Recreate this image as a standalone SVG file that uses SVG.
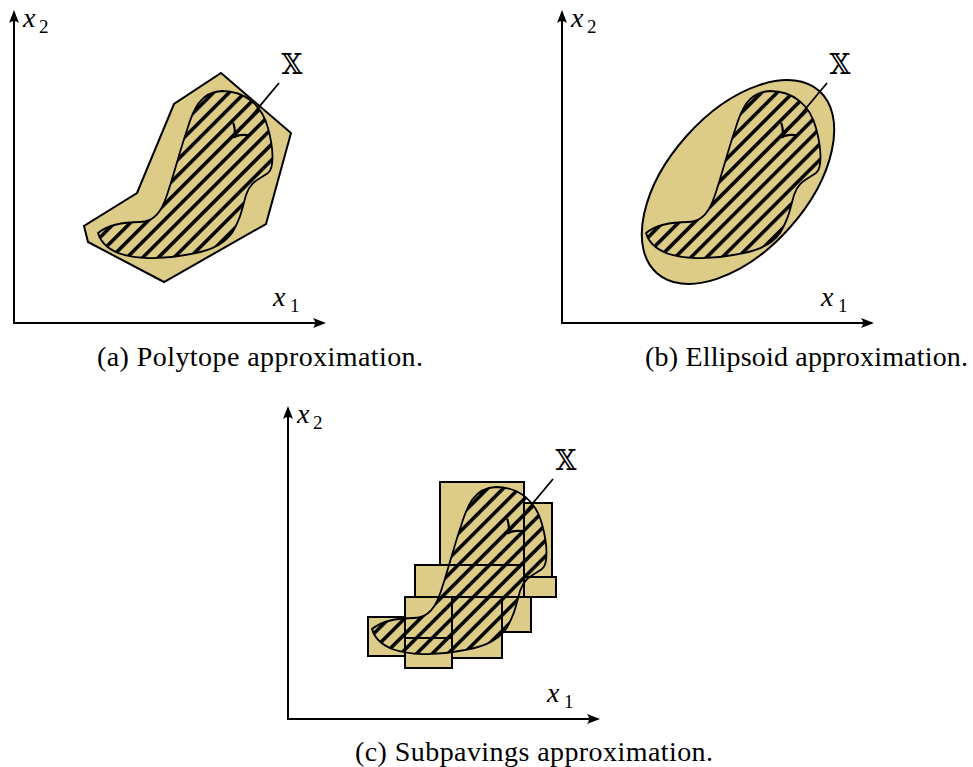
<svg xmlns="http://www.w3.org/2000/svg" xmlns:xlink="http://www.w3.org/1999/xlink" width="973" height="767" viewBox="0 0 973 767">
<style>
.axis{fill:none;stroke:#000;stroke-width:2;marker-end:url(#axhead)}
.region{fill:#DDCC88;stroke:#000;stroke-width:2;stroke-linejoin:miter}
.blob{fill:url(#hatch);stroke:#000;stroke-width:1.8}
.ptr{fill:none;stroke:#000;stroke-width:1.8;marker-end:url(#tohead)}
text{font-family:"Liberation Serif",serif;fill:#000}
.m{font-size:28px;font-style:italic}
.s{font-size:19px}
.cap{font-size:28px}
.set{font-family:"DejaVu Serif",serif;font-size:27px}
</style>
<defs>
<pattern id="hatch" patternUnits="userSpaceOnUse" width="11.1" height="11.1" patternTransform="rotate(-45)">
<line x1="-1" y1="5.5" x2="12.1" y2="5.5" stroke="#000" stroke-width="3.5"/>
</pattern>
<marker id="axhead" markerUnits="userSpaceOnUse" markerWidth="16" markerHeight="12" viewBox="-13 -6 16 12" refX="0" refY="0" orient="auto">
<path d="M2,0 L-11,-5 Q-7,0 -11,5 Z" fill="#000"/>
</marker>
<marker id="tohead" markerUnits="userSpaceOnUse" markerWidth="24" markerHeight="24" viewBox="-16 -12 24 24" refX="0" refY="0" orient="auto">
<path d="M-10,-9 C-6,-3 -2,-0.6 0.8,0 C-2,0.6 -6,3 -10,9" fill="none" stroke="#000" stroke-width="2.2" stroke-linecap="round"/>
</marker>
<path id="blob-shape" d="M98,233 C108,225 125,222 140,222 C155,222 162,210 167,195 C173,178 180,150 187,130 C193,110 200,92 222,91 C245,91 262,105 268,128 C274,150 274,168 268,173 C258,180 250,182 246,195 C242,210 240,220 232,233 C222,247 205,252 185,255 C160,260 135,259 118,253 C106,248 100,240 98,233 Z"/>
</defs>

<!-- Panel (a) -->
<g id="panel-a">
<g id="a-polytope"><polygon class="region" points="84,226 88,242 164,282 266,224 291,133 221,73 174,104 137,193"/></g>
<g id="a-set"><use href="#blob-shape" class="blob"/></g>
<g id="a-axes">
<line class="axis" x1="14" y1="323" x2="14" y2="12"/>
<line class="axis" x1="13" y1="323" x2="324" y2="323"/>
<text class="m" x="23" y="27">x</text><text class="s" x="39" y="33">2</text>
<text class="m" x="273" y="306">x</text><text class="s" x="290" y="312">1</text>
</g>
<g id="a-label"><text class="set" x="292" y="74" text-anchor="middle">𝕏</text></g>
<text class="cap" x="97" y="366" textLength="326" lengthAdjust="spacing">(a) Polytope approximation.</text>
</g>

<!-- Panel (b) -->
<g id="panel-b">
<g id="b-ellipsoid"><ellipse class="region" cx="738" cy="182" rx="122" ry="69" transform="rotate(-48.2 738 182)"/></g>
<g id="b-set"><use href="#blob-shape" class="blob" transform="translate(548,0)"/></g>
<g id="b-axes">
<line class="axis" x1="562" y1="323" x2="562" y2="12"/>
<line class="axis" x1="561" y1="323" x2="872" y2="323"/>
<text class="m" x="571" y="27">x</text><text class="s" x="587" y="33">2</text>
<text class="m" x="821" y="306">x</text><text class="s" x="838" y="312">1</text>
</g>
<g id="b-label"><text class="set" x="840" y="74" text-anchor="middle">𝕏</text></g>
<text class="cap" x="645" y="366" textLength="323" lengthAdjust="spacing">(b) Ellipsoid approximation.</text>
</g>

<!-- Panel (c) -->
<g id="panel-c">
<g id="c-boxes">
<rect class="region" x="440" y="482" width="84" height="83"/>
<rect class="region" x="524" y="503" width="28" height="74"/>
<rect class="region" x="524" y="577" width="32" height="20"/>
<rect class="region" x="415" y="565" width="109" height="32"/>
<rect class="region" x="502" y="597" width="29" height="35"/>
<rect class="region" x="452" y="597" width="50" height="61"/>
<rect class="region" x="405" y="597" width="47" height="41"/>
<rect class="region" x="405" y="638" width="47" height="30"/>
<rect class="region" x="368" y="617" width="37" height="39"/>
</g>
<g id="c-set"><use href="#blob-shape" class="blob" transform="translate(274,396)"/></g>
<g id="c-axes">
<line class="axis" x1="288" y1="719" x2="288" y2="408"/>
<line class="axis" x1="287" y1="719" x2="598" y2="719"/>
<text class="m" x="297" y="423">x</text><text class="s" x="313" y="429">2</text>
<text class="m" x="547" y="702">x</text><text class="s" x="564" y="708">1</text>
</g>
<g id="c-label"><text class="set" x="566" y="470" text-anchor="middle">𝕏</text></g>
<text class="cap" x="355" y="761" textLength="358" lengthAdjust="spacing">(c) Subpavings approximation.</text>
</g>

<!-- Connectors -->
<g id="connectors">
<line class="ptr" x1="279" y1="83" x2="234" y2="137"/>
<line class="ptr" x1="827" y1="83" x2="782" y2="137"/>
<line class="ptr" x1="553" y1="479" x2="508" y2="533"/>
</g>
</svg>
